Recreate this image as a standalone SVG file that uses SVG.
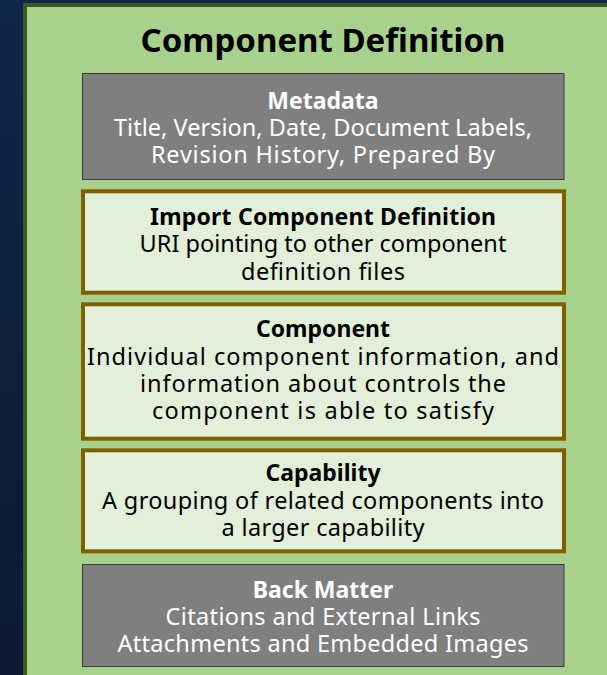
<svg xmlns="http://www.w3.org/2000/svg" width="607" height="675" viewBox="0 0 607 675">
  <defs>
    <linearGradient id="bg" x1="0" y1="0" x2="0" y2="1">
      <stop offset="0" stop-color="#10264a"/>
      <stop offset="1" stop-color="#0b1a31"/>
    </linearGradient>
  </defs>
  <style>
    text { font-family: "Noto Sans", "Open Sans", "Liberation Sans", sans-serif; text-anchor: middle; }
    .title { font-size: 33px; font-weight: bold; fill: #000; }
    .head { font-size: 23px; font-weight: bold; }
    .body { font-size: 23.5px; }
    .gray rect { fill: #7f7f7f; stroke: #3a3a3a; stroke-width: 1; }
    .gray text { fill: #fff; }
    .light rect { fill: #e2f0d9; stroke: #7f6000; stroke-width: 4; }
    .light text { fill: #000; }
  </style>

  <!-- page background -->
  <rect x="0" y="0" width="607" height="675" fill="url(#bg)"/>

  <!-- outer panel, running off the right and bottom edges -->
  <g id="panel">
    <rect x="25" y="5" width="600" height="690" fill="#a9d18e" stroke="#385723" stroke-width="4"/>
    <text class="title" x="323" y="52">Component Definition</text>
  </g>

  <g id="metadata" class="gray">
    <rect x="82.5" y="73.5" width="481.5" height="106"/>
    <text class="head" x="323" y="108.5">Metadata</text>
    <text class="body" x="323" y="135.5" textLength="418">Title, Version, Date, Document Labels,</text>
    <text class="body" x="323" y="162.5" textLength="344">Revision History, Prepared By</text>
  </g>

  <g id="import-component-definition" class="light">
    <rect x="83" y="191.3" width="481" height="101.4"/>
    <text class="head" x="323" y="224.5" textLength="346">Import Component Definition</text>
    <text class="body" x="323" y="252">URI pointing to other component</text>
    <text class="body" x="323" y="279.5" textLength="164">definition files</text>
  </g>

  <g id="component" class="light">
    <rect x="83" y="304.3" width="481" height="134.4"/>
    <text class="head" x="323" y="337">Component</text>
    <text class="body" x="323" y="364.5" textLength="472">Individual component information, and</text>
    <text class="body" x="323" y="392" textLength="366">information about controls the</text>
    <text class="body" x="323" y="419" textLength="342">component is able to satisfy</text>
  </g>

  <g id="capability" class="light">
    <rect x="83" y="450.3" width="481" height="101"/>
    <text class="head" x="323" y="481">Capability</text>
    <text class="body" x="323" y="508.5" textLength="442">A grouping of related components into</text>
    <text class="body" x="323" y="536" textLength="203">a larger capability</text>
  </g>

  <g id="back-matter" class="gray">
    <rect x="82.5" y="564.5" width="481.5" height="102"/>
    <text class="head" x="323" y="598">Back Matter</text>
    <text class="body" x="323" y="625" textLength="315">Citations and External Links</text>
    <text class="body" x="323" y="652" textLength="411">Attachments and Embedded Images</text>
  </g>
</svg>
